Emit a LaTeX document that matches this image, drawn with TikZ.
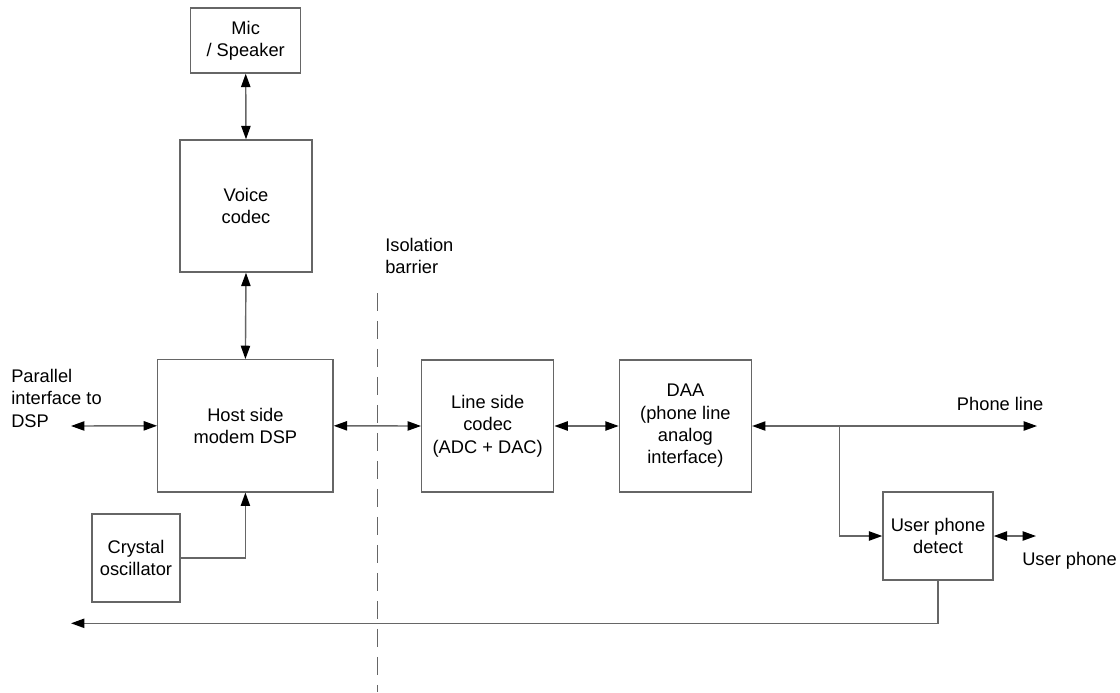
\documentclass[tikz,border=0pt]{standalone}
\usepackage{fontspec}
\setmainfont{Liberation Sans}
\usetikzlibrary{arrows.meta}
\tikzset{
	blk/.style={draw=black!60, line width=1pt, align=center, inner sep=0pt},
	lnk/.style={draw=black!60, line width=1pt},
	lbl/.style={align=left, inner sep=0pt},
	>={Triangle[length=9.5pt, width=6.6pt, color=black]}
}

\begin{document}
\begin{tikzpicture}[x=0.025cm, y=-0.025cm, font=\fontsize{13}{15.9}\selectfont]
			%%%%% START %%%%%
			
			\useasboundingbox (0, 0) rectangle (1120, 692);
			
			\node[blk, minimum width=2.75cm, minimum height=1.625cm] (mic) at (245.7, 40.5) {Mic\\/ Speaker};
			\node[blk, minimum width=3.3cm, minimum height=3.3cm] (voice) at (246, 206) {Voice\\codec};
			\node[blk, minimum width=4.38cm, minimum height=3.3cm] (host) at (245.4, 425.8) {Host side\\modem DSP};
			\node[blk, minimum width=2.2cm, minimum height=2.2cm] (xtal) at (136, 558) {Crystal\\oscillator};
			\node[blk, minimum width=3.3cm, minimum height=3.3cm] (linecodec) at (487.7, 426) {Line side\\codec\\(ADC + DAC)};
			\node[blk, minimum width=3.3cm, minimum height=3.3cm] (daa) at (685.4, 426) {DAA\\(phone line\\analog\\interface)};
			\node[blk, minimum width=2.75cm, minimum height=2.2cm] (upd) at (938, 536) {User phone\\detect};
			
			\node[lbl, anchor=north west] (parlbl) at (11, 369) {Parallel\\interface to\\DSP};
			\node[lbl, anchor=north west] (isolbl) at (385, 237.7) {Isolation\\barrier};
			\node[lbl, anchor=base west] (phonelbl) at (956.7, 410.7) {Phone line};
			\node[lbl, anchor=base west] (userlbl) at (1022, 565) {User phone};
			
			\coordinate (par) at (71, 426);
			\coordinate (tap) at (839.3, 426);
			\coordinate (phone) at (1037, 426);
			\coordinate (user) at (1036, 536);
			\coordinate (ret) at (71, 623.3);
			\coordinate (bartop) at (377.7, 293);
			\coordinate (barbot) at (377.7, 692);
			
			\draw[lnk, <->] (mic.south) -- (voice.north);
			\draw[lnk, <->] (voice.south) -- (host.north);
			\draw[lnk, <->] (par) -- (host.west);
			\draw[lnk, <->] (host.east) -- (linecodec.west);
			\draw[lnk, <->] (linecodec.east) -- (daa.west);
			\draw[lnk, <->] (daa.east) -- (phone);
			\draw[lnk, ->] (tap) |- (upd.west);
			\draw[lnk, <->] (upd.east) -- (user);
			\draw[lnk, ->] (upd.south) |- (ret);
			\draw[lnk, ->] (xtal.east) -| (host.south);
			
			\draw[lnk, dash pattern=on 12.8pt off 7.1pt] (bartop) -- (barbot);
			
			%%%%% END %%%%%
\end{tikzpicture}
\end{document}
